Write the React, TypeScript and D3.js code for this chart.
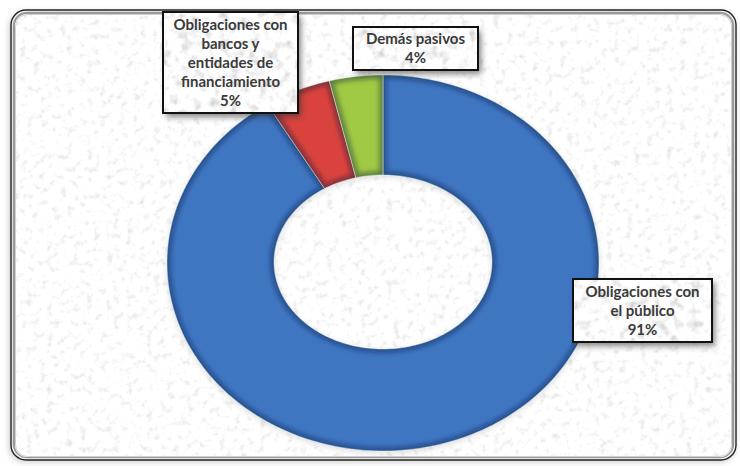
import React from "react";
import * as d3 from "d3";

const categories = [
  "Obligaciones con el público",
  "Obligaciones con bancos y entidades de financiamiento",
  "Demás pasivos",
];
const values = [91, 5, 4];
const colors = ["#3F76C2", "#DA433D", "#A0CA44"];
const labelLines = [
  ["Obligaciones con", "el público"],
  ["Obligaciones con", "bancos y", "entidades de", "financiamiento"],
  ["Demás pasivos"],
];

const W = 740;
const H = 466;
const CX = 383;
const CY = 263;
const RX = 216;
const RY = 188;
const IRX = 109;
const IRY = 87;

const boxes = [
  { x: 573, y: 279, w: 139, h: 63 },
  { x: 163, y: 12, w: 135, h: 101 },
  { x: 353, y: 27, w: 125, h: 43 },
];

export default function App() {
  const pie = d3.pie<number>().sort(null).value((d) => d)(values);
  const line = d3
    .line<[number, number]>()
    .x((d) => d[0])
    .y((d) => d[1]);

  const slicePath = (a0: number, a1: number) => {
    const n = Math.max(8, Math.ceil(((a1 - a0) / (Math.PI * 2)) * 240));
    const pts: [number, number][] = [];
    for (let i = 0; i <= n; i++) {
      const a = a0 + ((a1 - a0) * i) / n;
      pts.push([CX + RX * Math.sin(a), CY - RY * Math.cos(a)]);
    }
    for (let i = n; i >= 0; i--) {
      const a = a0 + ((a1 - a0) * i) / n;
      pts.push([CX + IRX * Math.sin(a), CY - 1 - IRY * Math.cos(a)]);
    }
    return line(pts) + "Z";
  };

  const paths = pie.map((p) => slicePath(p.startAngle, p.endAngle));
  const lh = 19;

  return (
    <svg
      width={W}
      height={H}
      style={{ position: "absolute", left: 0, top: 0, display: "block" }}
    >
      <defs>
        <filter id="tex" x="0" y="0" width="100%" height="100%">
          <feTurbulence type="fractalNoise" baseFrequency="0.15" numOctaves="3" seed="4" result="n" />
          <feColorMatrix
            in="n"
            type="matrix"
            values="0.6 0 0 0 0.72  0.6 0 0 0 0.72  0.6 0 0 0 0.72  0 0 0 0 1"
          />
        </filter>
        <filter id="tex2" x="0" y="0" width="100%" height="100%">
          <feTurbulence type="fractalNoise" baseFrequency="0.1" numOctaves="3" seed="9" result="n" />
          <feColorMatrix
            in="n"
            type="matrix"
            values="0.9 0 0 0 0.53  0.9 0 0 0 0.53  0.9 0 0 0 0.53  0 0 0 0 1"
          />
        </filter>
        <filter id="blur3" x="-10%" y="-10%" width="120%" height="120%">
          <feGaussianBlur stdDeviation="3" />
        </filter>
        <filter id="blur2" x="-10%" y="-10%" width="120%" height="120%">
          <feGaussianBlur stdDeviation="2.5" />
        </filter>
        <clipPath id="frameClip">
          <rect x={15} y={14} width={717} height={443} rx={12} />
        </clipPath>
        {paths.map((d, i) => (
          <clipPath key={i} id={"sc" + i}>
            <path d={d} />
          </clipPath>
        ))}
      </defs>

      <rect x={0} y={0} width={W} height={H} fill="#ffffff" />
      {/* frame shadow */}
      <rect x={9} y={12} width={726} height={450} rx={15} fill="#999" filter="url(#blur3)" opacity={0.5} />
      {/* outer frame */}
      <rect x={11} y={10} width={725} height={450} rx={15} fill="#f4f4f4" stroke="#222" strokeWidth={1.4} />
      <rect x={14} y={13} width={719} height={444} rx={13} fill="none" stroke="#9a9a9a" strokeWidth={2.5} />
      <g clipPath="url(#frameClip)">
        <rect x={15} y={14} width={717} height={443} filter="url(#tex)" />
      </g>
      <rect x={15.5} y={14.5} width={716} height={442} rx={12} fill="none" stroke="#d0d0d0" strokeWidth={1} />

      {/* donut soft shadow */}
      <g filter="url(#blur3)" opacity={0.35}>
        {paths.map((d, i) => (
          <path key={i} d={d} fill="#999" transform="translate(0,2)" />
        ))}
      </g>

      {/* slices */}
      {pie.map((p, i) => (
        <g key={categories[i]}>
          <path d={paths[i]} fill={colors[i]} />
          <g clipPath={`url(#sc${i})`}>
            <path
              d={paths[i]}
              fill="none"
              stroke="#0b1d3a"
              strokeOpacity={0.45}
              strokeWidth={7}
              filter="url(#blur2)"
            />
          </g>
          <path d={paths[i]} fill="none" stroke="#ffffff" strokeOpacity={0.5} strokeWidth={0.8} />
        </g>
      ))}

      {/* labels */}
      {pie.map((p, i) => {
        const b = boxes[i];
        const lines = [...labelLines[i], `${values[i]}%`];
        const top = b.y + b.h / 2 - ((lines.length - 1) * lh) / 2;
        return (
          <g key={"lab" + i}>
            <rect x={b.x + 3} y={b.y + 4} width={b.w} height={b.h} fill="#333" opacity={0.6} filter="url(#blur3)" />
            <clipPath id={"bc" + i}>
              <rect x={b.x} y={b.y} width={b.w} height={b.h} />
            </clipPath>
            <g clipPath={`url(#bc${i})`}>
              <rect x={b.x} y={b.y} width={b.w} height={b.h} filter="url(#tex2)" />
            </g>
            <rect x={b.x} y={b.y} width={b.w} height={b.h} fill="none" stroke="#111" strokeWidth={2} />
            {lines.map((t, j) => (
              <text
                key={j}
                x={b.x + b.w / 2}
                y={top + j * lh}
                dy="0.35em"
                textAnchor="middle"
                fontFamily="Lato, 'DejaVu Sans', sans-serif"
                fontWeight="bold"
                fontSize={15}
                fill="#3a3a3a"
              >
                {t}
              </text>
            ))}
          </g>
        );
      })}
    </svg>
  );
}
